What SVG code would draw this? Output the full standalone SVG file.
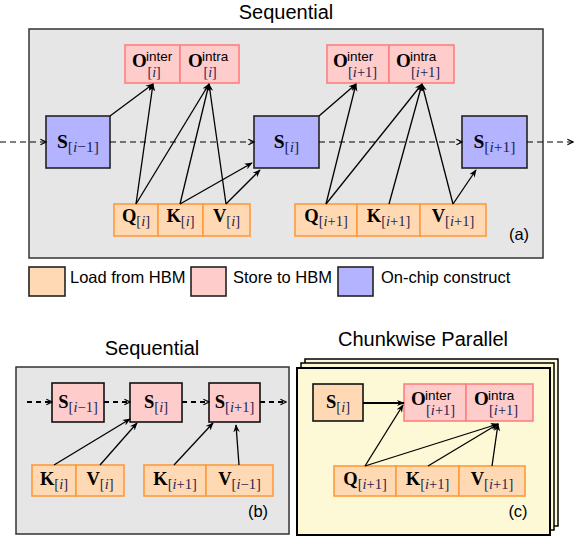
<svg xmlns="http://www.w3.org/2000/svg" width="574" height="536" viewBox="0 0 574 536">
<style>
.title{font-family:"Liberation Sans",Arial,sans-serif;font-size:20px;fill:#000}
.lab{font-family:"Liberation Sans",Arial,sans-serif;font-size:16.5px;fill:#000}
.panel{fill:#e6e6e6;stroke:#333;stroke-width:1.5}
.ld{fill:#ffd9b3;stroke:#ff9a3c;stroke-width:1.6}
.st{fill:#ffcccc;stroke:#ff8080;stroke-width:1.6}
.oc{fill:#b3b3ff;stroke:#222;stroke-width:1.6}
.yl{fill:#fdf8d6;stroke:#000;stroke-width:2}
.pk{fill:#ffcccc;stroke:#111;stroke-width:1.6}
.or{fill:#ffd9b3;stroke:#111;stroke-width:1.6}
.m{font-family:"Liberation Serif","Times New Roman",serif;font-weight:bold;fill:#000}
.sub{font-family:"Liberation Serif","Times New Roman",serif;font-weight:normal;fill:#1d2552}
.it{font-style:italic}
.sup{font-family:"Liberation Sans",Arial,sans-serif;font-size:13.5px;fill:#000}
.c{stroke:#000;stroke-width:1.3;fill:none}
.d{stroke:#000;stroke-width:1.2;fill:none;stroke-dasharray:6 4}
.db{stroke:#000;stroke-width:2;fill:none;stroke-dasharray:5 4}
</style>
<defs>
<marker id="ah" viewBox="0 0 10 10" refX="9" refY="5" markerWidth="8" markerHeight="8" orient="auto" markerUnits="userSpaceOnUse"><path d="M0,1 L10,5 L0,9 L3,5 z" fill="#000"/></marker>
<marker id="ch" viewBox="0 0 10 10" refX="9" refY="5" markerWidth="8" markerHeight="8" orient="auto" markerUnits="userSpaceOnUse"><path d="M2,1.5 L9,5 L2,8.5" fill="none" stroke="#000" stroke-width="1.5"/></marker>
</defs>

<!-- Panel (a) -->
<text class="title" x="286" y="18.5" text-anchor="middle">Sequential</text>
<rect class="panel" x="29" y="29" width="514" height="229"/>

<g id="O_inter_i">
<rect class="st" x="125" y="45" width="55" height="38"/>
<text class="m" x="132" y="67" font-size="19">O</text>
<text class="sup" x="146" y="61">inter</text>
<text class="sub" x="147.5" y="77" font-size="14">[<tspan class="it">i</tspan>]</text>
</g>
<g id="O_intra_i">
<rect class="st" x="180" y="45" width="59" height="38"/>
<text class="m" x="188" y="67" font-size="19">O</text>
<text class="sup" x="202" y="61">intra</text>
<text class="sub" x="203.5" y="77" font-size="14">[<tspan class="it">i</tspan>]</text>
</g>
<g id="O_inter_i1">
<rect class="st" x="327" y="45" width="62" height="38"/>
<text class="m" x="333" y="67" font-size="19">O</text>
<text class="sup" x="347" y="61">inter</text>
<text class="sub" x="348" y="77" font-size="14.5">[<tspan class="it">i</tspan>+1]</text>
</g>
<g id="O_intra_i1">
<rect class="st" x="389" y="45" width="65" height="38"/>
<text class="m" x="396" y="67" font-size="19">O</text>
<text class="sup" x="410" y="61">intra</text>
<text class="sub" x="411" y="77" font-size="14.5">[<tspan class="it">i</tspan>+1]</text>
</g>

<g id="S_im1">
<rect class="oc" x="46" y="116" width="64" height="52"/>
<text x="78" y="148" text-anchor="middle"><tspan class="m" font-size="19.5">S</tspan><tspan class="sub" font-size="15.5" dy="4">[<tspan class="it">i</tspan>−1]</tspan></text>
</g>
<g id="S_i">
<rect class="oc" x="254" y="116" width="65" height="52"/>
<text x="286.5" y="148" text-anchor="middle"><tspan class="m" font-size="19.5">S</tspan><tspan class="sub" font-size="15.5" dy="4">[<tspan class="it">i</tspan>]</tspan></text>
</g>
<g id="S_ip1">
<rect class="oc" x="462" y="116" width="65" height="52"/>
<text x="494.5" y="148" text-anchor="middle"><tspan class="m" font-size="19.5">S</tspan><tspan class="sub" font-size="15.5" dy="4">[<tspan class="it">i</tspan>+1]</tspan></text>
</g>

<g id="Q_i">
<rect class="ld" x="114" y="204" width="44" height="32"/>
<text x="136" y="222" text-anchor="middle"><tspan class="m" font-size="18.5">Q</tspan><tspan class="sub" font-size="14.5" dy="4">[<tspan class="it">i</tspan>]</tspan></text>
</g>
<g id="K_i">
<rect class="ld" x="158" y="204" width="45" height="32"/>
<text x="180.5" y="222" text-anchor="middle"><tspan class="m" font-size="18.5">K</tspan><tspan class="sub" font-size="14.5" dy="4">[<tspan class="it">i</tspan>]</tspan></text>
</g>
<g id="V_i">
<rect class="ld" x="203" y="204" width="47" height="32"/>
<text x="226.5" y="222" text-anchor="middle"><tspan class="m" font-size="18.5">V</tspan><tspan class="sub" font-size="14.5" dy="4">[<tspan class="it">i</tspan>]</tspan></text>
</g>
<g id="Q_ip1">
<rect class="ld" x="295" y="204" width="62" height="32"/>
<text x="326" y="222" text-anchor="middle"><tspan class="m" font-size="18.5">Q</tspan><tspan class="sub" font-size="14.5" dy="4">[<tspan class="it">i</tspan>+1]</tspan></text>
</g>
<g id="K_ip1">
<rect class="ld" x="357" y="204" width="63" height="32"/>
<text x="388.5" y="222" text-anchor="middle"><tspan class="m" font-size="18.5">K</tspan><tspan class="sub" font-size="14.5" dy="4">[<tspan class="it">i</tspan>+1]</tspan></text>
</g>
<g id="V_ip1">
<rect class="ld" x="420" y="204" width="66" height="32"/>
<text x="453" y="222" text-anchor="middle"><tspan class="m" font-size="18.5">V</tspan><tspan class="sub" font-size="14.5" dy="4">[<tspan class="it">i</tspan>+1]</tspan></text>
</g>
<text class="lab" x="519" y="240" text-anchor="middle">(a)</text>

<g id="connectors_a">
<line class="d" x1="0" y1="142" x2="46" y2="142" marker-end="url(#ch)"/>
<line class="d" x1="110" y1="142" x2="254" y2="142" marker-end="url(#ch)"/>
<line class="d" x1="319" y1="142" x2="462" y2="142" marker-end="url(#ch)"/>
<line class="d" x1="527" y1="142" x2="573" y2="142" marker-end="url(#ch)"/>
<line class="c" x1="110" y1="116" x2="153" y2="84" marker-end="url(#ah)"/>
<line class="c" x1="136" y1="204" x2="153" y2="84" marker-end="url(#ah)"/>
<line class="c" x1="136" y1="204" x2="209" y2="84" marker-end="url(#ah)"/>
<line class="c" x1="180" y1="204" x2="209" y2="84" marker-end="url(#ah)"/>
<line class="c" x1="226" y1="204" x2="209" y2="84" marker-end="url(#ah)"/>
<line class="c" x1="180" y1="204" x2="252" y2="163" marker-end="url(#ah)"/>
<line class="c" x1="226" y1="204" x2="260" y2="170" marker-end="url(#ah)"/>
<line class="c" x1="319" y1="116" x2="356" y2="84" marker-end="url(#ah)"/>
<line class="c" x1="326" y1="204" x2="356" y2="84" marker-end="url(#ah)"/>
<line class="c" x1="326" y1="204" x2="422" y2="84" marker-end="url(#ah)"/>
<line class="c" x1="389" y1="204" x2="422" y2="84" marker-end="url(#ah)"/>
<line class="c" x1="453" y1="204" x2="422" y2="84" marker-end="url(#ah)"/>
<line class="c" x1="453" y1="204" x2="476" y2="170" marker-end="url(#ah)"/>
</g>

<!-- Legend -->
<g id="legend">
<rect class="ld" x="29" y="267" width="36" height="29" style="stroke:#222"/>
<text class="lab" x="70" y="283">Load from HBM</text>
<rect class="st" x="191" y="267" width="35" height="29" style="stroke:#222"/>
<text class="lab" x="233" y="283">Store to HBM</text>
<rect class="oc" x="338" y="267" width="35" height="29"/>
<text class="lab" x="381" y="283">On-chip construct</text>
</g>

<!-- Panel (b) -->
<text class="title" x="152" y="355" text-anchor="middle">Sequential</text>
<rect class="panel" x="16" y="367" width="273" height="167"/>
<g id="b_S_im1">
<rect class="pk" x="52" y="383" width="52" height="39"/>
<text x="78" y="408" text-anchor="middle"><tspan class="m" font-size="18.5">S</tspan><tspan class="sub" font-size="14.5" dy="4">[<tspan class="it">i</tspan>−1]</tspan></text>
</g>
<g id="b_S_i">
<rect class="pk" x="130" y="383" width="52" height="39"/>
<text x="156" y="408" text-anchor="middle"><tspan class="m" font-size="18.5">S</tspan><tspan class="sub" font-size="14.5" dy="4">[<tspan class="it">i</tspan>]</tspan></text>
</g>
<g id="b_S_ip1">
<rect class="pk" x="209" y="383" width="51" height="39"/>
<text x="234.5" y="408" text-anchor="middle"><tspan class="m" font-size="18.5">S</tspan><tspan class="sub" font-size="14.5" dy="4">[<tspan class="it">i</tspan>+1]</tspan></text>
</g>
<g id="b_K_i">
<rect class="ld" x="32" y="465" width="44" height="31"/>
<text x="54" y="485" text-anchor="middle"><tspan class="m" font-size="18.5">K</tspan><tspan class="sub" font-size="14.5" dy="4">[<tspan class="it">i</tspan>]</tspan></text>
</g>
<g id="b_V_i">
<rect class="ld" x="76" y="465" width="48" height="31"/>
<text x="100" y="485" text-anchor="middle"><tspan class="m" font-size="18.5">V</tspan><tspan class="sub" font-size="14.5" dy="4">[<tspan class="it">i</tspan>]</tspan></text>
</g>
<g id="b_K_ip1">
<rect class="ld" x="144" y="465" width="62" height="31"/>
<text x="175" y="485" text-anchor="middle"><tspan class="m" font-size="18.5">K</tspan><tspan class="sub" font-size="14.5" dy="4">[<tspan class="it">i</tspan>+1]</tspan></text>
</g>
<g id="b_V_im1">
<rect class="ld" x="206" y="465" width="67" height="31"/>
<text x="239.5" y="485" text-anchor="middle"><tspan class="m" font-size="18.5">V</tspan><tspan class="sub" font-size="14.5" dy="4">[<tspan class="it">i</tspan>−1]</tspan></text>
</g>
<text class="lab" x="258" y="517" text-anchor="middle">(b)</text>
<g id="connectors_b">
<line class="db" x1="27" y1="402" x2="52" y2="402" marker-end="url(#ch)"/>
<line class="db" x1="104" y1="402" x2="130" y2="402" marker-end="url(#ch)"/>
<line class="db" x1="182" y1="402" x2="209" y2="402" marker-end="url(#ch)"/>
<line class="db" x1="260" y1="402" x2="286" y2="402" marker-end="url(#ch)"/>
<line class="c" x1="54" y1="465" x2="130" y2="419" marker-end="url(#ah)"/>
<line class="c" x1="100" y1="465" x2="137" y2="423" marker-end="url(#ah)"/>
<line class="c" x1="174" y1="465" x2="213" y2="423" marker-end="url(#ah)"/>
<line class="c" x1="239" y1="465" x2="236" y2="425" marker-end="url(#ah)"/>
</g>

<!-- Panel (c) -->
<text class="title" x="423" y="346" text-anchor="middle">Chunkwise Parallel</text>
<rect class="yl" x="305" y="359" width="253" height="167" style="stroke-width:1.5"/>
<rect class="yl" x="301" y="363" width="253" height="167" style="stroke-width:1.5"/>
<rect class="yl" x="297" y="368" width="253" height="167"/>
<g id="c_S_i">
<rect class="or" x="313" y="384" width="50" height="37"/>
<text x="338" y="408" text-anchor="middle"><tspan class="m" font-size="18.5">S</tspan><tspan class="sub" font-size="14.5" dy="4">[<tspan class="it">i</tspan>]</tspan></text>
</g>
<g id="c_O_inter">
<rect class="st" x="404" y="384" width="62" height="37"/>
<text class="m" x="411" y="405" font-size="19">O</text>
<text class="sup" x="425" y="400">inter</text>
<text class="sub" x="426" y="415" font-size="14.5">[<tspan class="it">i</tspan>+1]</text>
</g>
<g id="c_O_intra">
<rect class="st" x="466" y="384" width="67" height="37"/>
<text class="m" x="474" y="405" font-size="19">O</text>
<text class="sup" x="488" y="400">intra</text>
<text class="sub" x="489" y="415" font-size="14.5">[<tspan class="it">i</tspan>+1]</text>
</g>
<g id="c_Q">
<rect class="ld" x="334" y="466" width="62" height="30"/>
<text x="365" y="485" text-anchor="middle"><tspan class="m" font-size="18.5">Q</tspan><tspan class="sub" font-size="14.5" dy="4">[<tspan class="it">i</tspan>+1]</tspan></text>
</g>
<g id="c_K">
<rect class="ld" x="396" y="466" width="63" height="30"/>
<text x="427.5" y="485" text-anchor="middle"><tspan class="m" font-size="18.5">K</tspan><tspan class="sub" font-size="14.5" dy="4">[<tspan class="it">i</tspan>+1]</tspan></text>
</g>
<g id="c_V">
<rect class="ld" x="459" y="466" width="66" height="30"/>
<text x="492" y="485" text-anchor="middle"><tspan class="m" font-size="18.5">V</tspan><tspan class="sub" font-size="14.5" dy="4">[<tspan class="it">i</tspan>+1]</tspan></text>
</g>
<text class="lab" x="518" y="517" text-anchor="middle">(c)</text>
<g id="connectors_c">
<line class="c" x1="363" y1="403" x2="404" y2="403" style="stroke-width:2" marker-end="url(#ah)"/>
<line class="c" x1="365" y1="466" x2="403" y2="405" marker-end="url(#ah)"/>
<line class="c" x1="365" y1="466" x2="498" y2="424" marker-end="url(#ah)"/>
<line class="c" x1="428" y1="466" x2="498" y2="424" marker-end="url(#ah)"/>
<line class="c" x1="492" y1="466" x2="498" y2="424" marker-end="url(#ah)"/>
</g>
</svg>
